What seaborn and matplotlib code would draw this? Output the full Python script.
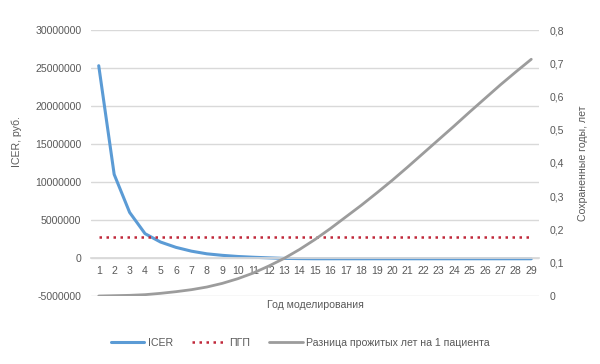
import numpy as np
import pandas as pd
import matplotlib
matplotlib.use("Agg")
import matplotlib.pyplot as plt
import seaborn as sns
from matplotlib.ticker import FuncFormatter

years = list(range(1, 30))
icer = [25300000, 11000000, 6000000, 3200000, 2100000, 1400000, 900000, 550000,
        350000, 200000, 100000, 20000, -50000, -80000, -100000, -100000, -100000,
        -100000, -100000, -100000, -100000, -100000, -100000, -100000, -100000,
        -100000, -100000, -100000, -100000]
pgp_value = 2750000
pgp = [pgp_value] * len(years)
life_years = [0.000, 0.001, 0.002, 0.004, 0.008, 0.013, 0.019, 0.027, 0.038, 0.052,
              0.069, 0.090, 0.113, 0.140, 0.170, 0.203, 0.238, 0.273, 0.310, 0.348,
              0.388, 0.429, 0.470, 0.511, 0.553, 0.594, 0.635, 0.674, 0.712]

left_ticks = [-5000000, 0, 5000000, 10000000, 15000000, 20000000, 25000000, 30000000]
right_ticks = [0, 0.1, 0.2, 0.3, 0.4, 0.5, 0.6, 0.7, 0.8]

df = pd.DataFrame({"year": years, "icer": icer, "pgp": pgp, "ly": life_years})

sns.set_theme(style="white")
plt.rcParams["font.family"] = ["Liberation Sans", "DejaVu Sans"]

txt = "#595959"
grid = "#D9D9D9"
blue = "#5B9BD5"
red = "#C0283A"
gray = "#9C9C9C"

fig = plt.figure(figsize=(6.0, 3.64), dpi=100)
ax = fig.add_axes([91/600, 1-296/364, 448/600, 266/364])
ax2 = ax.twinx()

sns.lineplot(data=df, x="year", y="icer", ax=ax, color=blue, linewidth=2.2, label="ICER", legend=False)
sns.lineplot(data=df, x="year", y="pgp", ax=ax, color=red, linewidth=1.8, label="ПГП", legend=False)
ax.lines[-1].set_linestyle((0, (1, 1.8)))
sns.lineplot(data=df, x="year", y="ly", ax=ax2, color=gray, linewidth=2.0,
             label="Разница прожитых лет на 1 пациента", legend=False)

ax.set_xlim(0.5, 29.5)
ax.set_ylim(-5000000, 30000000)
ax.set_yticks(left_ticks)
ax.yaxis.set_major_formatter(FuncFormatter(lambda v, p: f"{int(v)}"))
ax.set_xticks(years)
ax.set_xticklabels([str(y) for y in years])
ax2.set_ylim(0, 0.8)
ax2.set_yticks(right_ticks)
ax2.yaxis.set_major_formatter(FuncFormatter(lambda v, p: "0" if abs(v) < 1e-9 else f"{v:.1f}".replace(".", ",")))

ax.grid(axis="y", color=grid, linewidth=1.0)
ax.set_axisbelow(True)
for a in (ax, ax2):
    for s in a.spines.values():
        s.set_visible(False)
ax.spines["bottom"].set_position(("data", 0))
ax.spines["bottom"].set_visible(True)
ax.spines["bottom"].set_color(grid)

fs = 7.6
ax.tick_params(axis="x", length=0, pad=6, labelsize=fs, labelcolor=txt)
ax.tick_params(axis="y", length=0, pad=7, labelsize=fs, labelcolor=txt)
ax2.tick_params(axis="y", length=0, pad=8, labelsize=fs, labelcolor=txt)

ax.set_xlabel("Год моделирования", fontsize=fs, color=txt)
ax.xaxis.set_label_coords(0.5, -0.015)
ax.set_ylabel("ICER, руб.", fontsize=fs, color=txt)
ax.yaxis.set_label_coords(-0.155, 0.58)
ax2.set_ylabel("Сохраненные годы, лет", fontsize=fs, color=txt)
ax2.yaxis.set_label_coords(1.088, 0.5)

handles = ax.get_lines()[:2] + ax2.get_lines()[:1]
labels = ["ICER", "ПГП", "Разница прожитых лет на 1 пациента"]
leg = fig.legend(handles, labels, loc="center", bbox_to_anchor=(0.5, 1-343/364), ncol=3,
                 frameon=False, fontsize=fs, handlelength=3.2, columnspacing=1.8, handletextpad=0.3)
for t in leg.get_texts():
    t.set_color(txt)

fig.savefig("out.png", dpi=100)
